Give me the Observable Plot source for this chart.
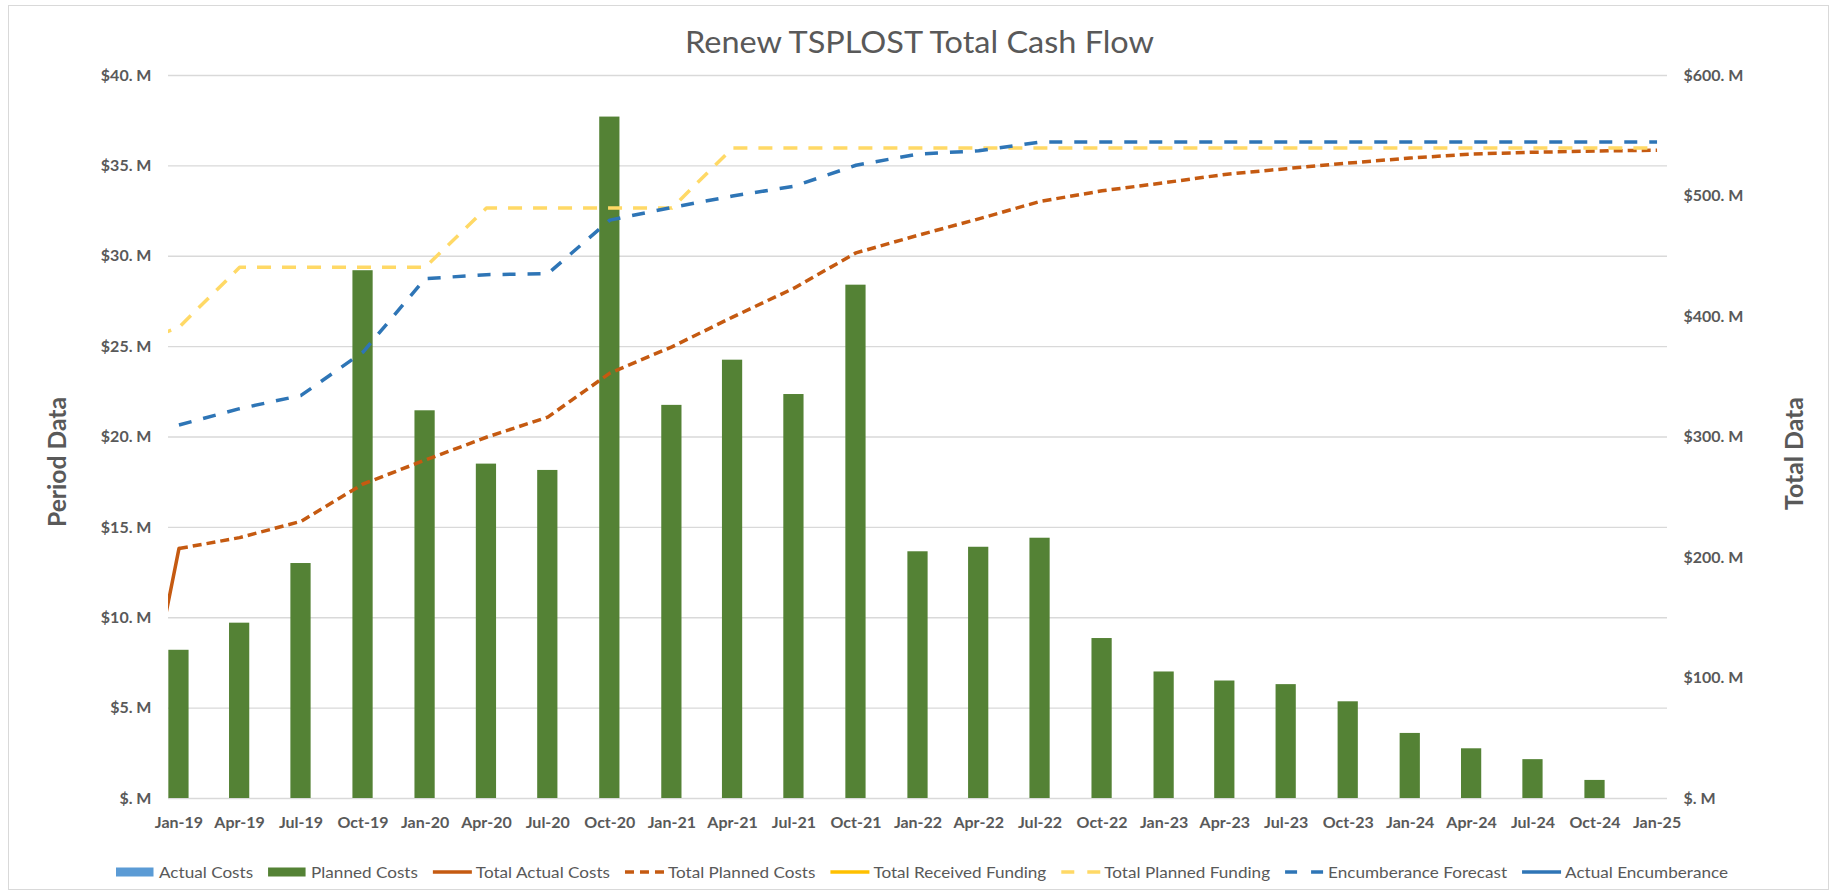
<!DOCTYPE html>
<html>
<head>
<meta charset="utf-8">
<script src="https://cdn.jsdelivr.net/npm/d3@7"></script>
<script src="https://cdn.jsdelivr.net/npm/@observablehq/plot@0.6"></script>
<style>
  body { margin: 0; background: #ffffff; }
  #wrap { position: relative; width: 1833px; height: 894px; overflow: hidden; background: #ffffff; }
  #wrap > svg { position: absolute; left: 0; top: 0; }
  #border { position: absolute; left: 8px; top: 5px; width: 1819px; height: 883px; border: 1px solid #d9d9d9; pointer-events: none; }
</style>
</head>
<body>
<div id="wrap"><div id="border"></div></div>
<script>
// ---------------- DATA ----------------
const quarterLabels = ["Jan-19","Apr-19","Jul-19","Oct-19","Jan-20","Apr-20","Jul-20","Oct-20",
  "Jan-21","Apr-21","Jul-21","Oct-21","Jan-22","Apr-22","Jul-22","Oct-22",
  "Jan-23","Apr-23","Jul-23","Oct-23","Jan-24","Apr-24","Jul-24","Oct-24","Jan-25"];

// Period data ($M, left axis) - Planned Costs per quarter (Jan-19 .. Oct-24)
const plannedCosts = [8.2, 9.7, 13.0, 29.2, 21.45, 18.5, 18.15, 37.7,
  21.75, 24.25, 22.35, 28.4, 13.65, 13.9, 14.4, 8.85,
  7.0, 6.5, 6.3, 5.35, 3.6, 2.75, 2.15, 1.0];
const actualCosts = [];          // no values shown
const totalReceivedFunding = []; // no values shown
const actualEncumberance = [];   // no values shown

// Total data ($M, right axis)
const totalActualLabels = ["Dec-18","Jan-19"];
const totalActualCosts = [120.6, 207.4];

const totalPlannedCosts = [207.4, 216.5, 230, 261, 280.8, 299.8, 316.5, 353,
  374.8, 399.5, 423.5, 452.8, 467.4, 481, 495.5, 504.3,
  511, 517.9, 522.7, 527.3, 531.5, 534.8, 536.3, 537.3, 538];

const fundingLabels = ["Dec-18"].concat(quarterLabels);
const totalPlannedFunding = [384.6, 391, 440.8, 440.8, 440.8, 440.8, 490, 490, 490,
  490, 539.8, 539.8, 539.8, 539.8, 539.8, 539.8, 539.8,
  539.8, 539.8, 539.8, 539.8, 539.8, 539.8, 539.8, 539.8, 539.8];

const encumberanceForecast = [310, 323.5, 334.5, 370.5, 431.4, 434.7, 435.5, 480,
  490.5, 500, 508, 525.5, 534.8, 537.5, 544.8, 544.8,
  544.8, 544.8, 544.8, 544.8, 544.8, 544.8, 544.8, 544.8, 544.8];

const leftTicks = [0, 5, 10, 15, 20, 25, 30, 35, 40];
const rightTicks = [0, 100, 200, 300, 400, 500, 600];

const titleText = "Renew TSPLOST Total Cash Flow";
const leftAxisTitle = "Period Data";
const rightAxisTitle = "Total Data";
const legendLabels = ["Actual Costs","Planned Costs","Total Actual Costs","Total Planned Costs",
  "Total Received Funding","Total Planned Funding","Encumberance Forecast","Actual Encumberance"];

// ---------------- STYLES ----------------
const C = {
  text: "#595959", grid: "#d9d9d9",
  actual: "#5B9BD5", planned: "#548235", orange: "#C55A11",
  gold: "#FFC000", lightGold: "#FFD966", blue: "#2E75B6"
};
const legendStyle = [
  {kind: "rect", color: C.actual},
  {kind: "rect", color: C.planned},
  {kind: "line", color: C.orange},
  {kind: "line", color: C.orange, dash: "9,6"},
  {kind: "line", color: C.gold},
  {kind: "line", color: C.lightGold, dash: "13,13"},
  {kind: "line", color: C.blue, dash: "12,14"},
  {kind: "line", color: C.blue}
];

// ---------------- BUILD ----------------
const parse = d3.utcParse("%b-%y");
const fmtMonth = d3.utcFormat("%b-%y");
const ratio = d3.max(rightTicks) / d3.max(leftTicks); // right axis units per left unit
const dates = quarterLabels.map(parse);
const padDays = 15.5;
const xDomain = [d3.utcHour.offset(dates[0], -padDays * 24), d3.utcHour.offset(dates[dates.length - 1], padDays * 24)];

const bars = plannedCosts.map((v, i) => ({date: dates[i], value: v}));
const series = (labels, values) => values.map((v, i) => ({date: parse(labels[i]), value: v}));
const tac = series(totalActualLabels, totalActualCosts);
const tpc = series(quarterLabels, totalPlannedCosts);
const tpf = series(fundingLabels, totalPlannedFunding);
const enc = series(quarterLabels, encumberanceForecast);
const money = v => v === 0 ? "$. M" : `$${v}. M`;

const chart = Plot.plot({
  width: 1833,
  height: 894,
  marginLeft: 168,
  marginRight: 166,
  marginTop: 75,
  marginBottom: 96,
  style: {fontFamily: "Lato, 'Open Sans', sans-serif", fontSize: "16px", color: C.text, background: "transparent"},
  x: {type: "utc", domain: xDomain},
  y: {domain: [0, d3.max(leftTicks)]},
  marks: [
    Plot.gridY(leftTicks, {stroke: C.grid, strokeOpacity: 1, strokeWidth: 1.3}),
    Plot.rectY(bars, {
      x1: d => d3.utcHour.offset(d.date, -15 * 24),
      x2: d => d3.utcHour.offset(d.date, 15 * 24),
      y: "value", fill: C.planned
    }),
    Plot.line(tac, {x: "date", y: d => d.value / ratio, stroke: C.orange, strokeWidth: 3.5, clip: true}),
    Plot.line(tpc, {x: "date", y: d => d.value / ratio, stroke: C.orange, strokeWidth: 3.5,
      strokeDasharray: "9,5", strokeLinecap: "butt", clip: true}),
    Plot.line(tpf, {x: "date", y: d => d.value / ratio, stroke: C.lightGold, strokeWidth: 3.5,
      strokeDasharray: "14,11", strokeLinecap: "butt", clip: true}),
    Plot.line(enc, {x: "date", y: d => d.value / ratio, stroke: C.blue, strokeWidth: 3.5,
      strokeDasharray: "13,12", strokeLinecap: "butt", clip: true}),
    Plot.axisY(leftTicks, {anchor: "left", tickSize: 0, tickPadding: 17, tickFormat: money,
      fontWeight: "bold", label: null}),
    Plot.axisY(rightTicks.map(v => v / ratio), {anchor: "right", tickSize: 0, tickPadding: 16,
      tickFormat: d => money(Math.round(d * ratio)), fontWeight: "bold", label: null}),
    Plot.axisX(dates, {anchor: "bottom", tickSize: 0, tickPadding: 18, tickFormat: fmtMonth,
      fontWeight: "bold", label: null})
  ]
});

const wrap = document.getElementById("wrap");
wrap.insertBefore(chart, wrap.firstChild);

// Overlay: title, axis titles, legend (real text)
const overlay = d3.select(wrap).append("svg")
  .attr("width", 1833).attr("height", 894)
  .style("pointer-events", "none")
  .style("font-family", "Lato, 'Open Sans', sans-serif");

overlay.append("text")
  .attr("x", 919.5).attr("y", 53)
  .attr("text-anchor", "middle")
  .attr("font-size", 31).attr("fill", C.text)
  .attr("textLength", 469).attr("lengthAdjust", "spacingAndGlyphs")
  .text(titleText);

overlay.append("text")
  .attr("transform", "translate(66,462) rotate(-90)")
  .attr("text-anchor", "middle")
  .attr("font-size", 24).attr("font-weight", "bold").attr("fill", C.text)
  .attr("textLength", 130).attr("lengthAdjust", "spacingAndGlyphs")
  .text(leftAxisTitle);

overlay.append("text")
  .attr("transform", "translate(1803,453.5) rotate(-90)")
  .attr("text-anchor", "middle")
  .attr("font-size", 24).attr("font-weight", "bold").attr("fill", C.text)
  .attr("textLength", 113).attr("lengthAdjust", "spacingAndGlyphs")
  .text(rightAxisTitle);

// Legend
const legendG = overlay.append("g");
const swW = 39, swGap = 4, itemGap = 15, legendWidth = 1612, legendCenter = 922;
const texts = legendLabels.map(label => legendG.append("text")
  .attr("font-size", 16).attr("fill", C.text).text(label));
const natural = texts.map(t => t.node().getComputedTextLength());
const k = (legendWidth - legendLabels.length * (swW + swGap) - (legendLabels.length - 1) * itemGap) / d3.sum(natural);
let cx = legendCenter - legendWidth / 2;
const ly = 872;
legendLabels.forEach((label, i) => {
  const st = legendStyle[i];
  if (st.kind === "rect") {
    legendG.append("rect").attr("x", cx).attr("y", ly - 4.5).attr("width", swW - 1.5).attr("height", 9).attr("fill", st.color);
  } else {
    legendG.append("line").attr("x1", cx).attr("x2", cx + swW).attr("y1", ly).attr("y2", ly)
      .attr("stroke", st.color).attr("stroke-width", 3.5).attr("stroke-dasharray", st.dash || null);
  }
  const w = natural[i] * k;
  texts[i].attr("x", cx + swW + swGap).attr("y", ly + 5.5)
    .attr("textLength", w).attr("lengthAdjust", "spacingAndGlyphs");
  cx += swW + swGap + w + itemGap;
});
</script>
</body>
</html>
